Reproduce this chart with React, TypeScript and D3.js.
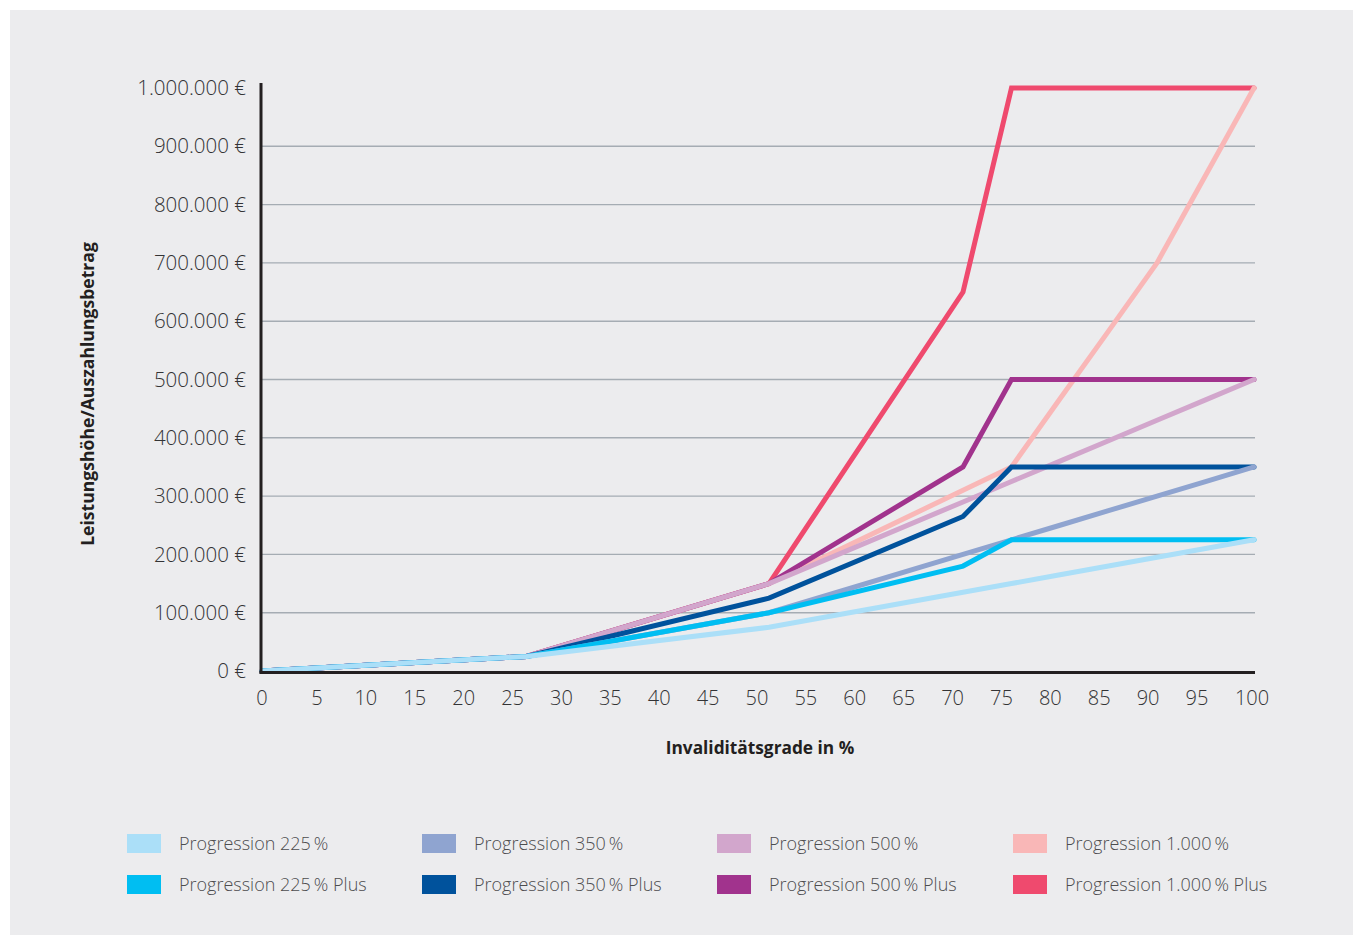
import React from "react";
import * as d3 from "d3";

// Invaliditätsgrade (x) at the break points of the curves
const grades = [0, 25, 50, 70, 75, 80, 85, 90, 95, 100];

const seriesNames = [
  "Progression 225\u2009%",
  "Progression 225\u2009% Plus",
  "Progression 350\u2009%",
  "Progression 350\u2009% Plus",
  "Progression 500\u2009%",
  "Progression 500\u2009% Plus",
  "Progression 1.000\u2009%",
  "Progression 1.000\u2009% Plus",
];

const seriesColors = [
  "#abdff8",
  "#00bef2",
  "#8fa4d0",
  "#00529c",
  "#d2a6cc",
  "#a1338d",
  "#f9b7b7",
  "#ef4a6e",
];

const p225 = [0, 25000, 75000, 135000, 150000, 165000, 180000, 195000, 210000, 225000];
const p225Plus = [0, 25000, 100000, 180000, 225000, 225000, 225000, 225000, 225000, 225000];
const p350 = [0, 25000, 100000, 200000, 225000, 250000, 275000, 300000, 325000, 350000];
const p350Plus = [0, 25000, 125000, 265000, 350000, 350000, 350000, 350000, 350000, 350000];
const p500 = [0, 25000, 150000, 290000, 325000, 360000, 395000, 430000, 465000, 500000];
const p500Plus = [0, 25000, 150000, 350000, 500000, 500000, 500000, 500000, 500000, 500000];
const p1000 = [0, 25000, 150000, 310000, 350000, 467000, 583000, 700000, 850000, 1000000];
const p1000Plus = [0, 25000, 150000, 650000, 1000000, 1000000, 1000000, 1000000, 1000000, 1000000];

const seriesValues = [p225, p225Plus, p350, p350Plus, p500, p500Plus, p1000, p1000Plus];

const xTicks = d3.range(0, 101, 5);
const yTicks = d3.range(0, 1000001, 100000);

const xTitle = "Invaliditätsgrade in %";
const yTitle = "Leistungshöhe/Auszahlungsbetrag";

const de = d3.formatLocale({
  decimal: ",",
  thousands: ".",
  grouping: [3],
  currency: ["", "\u00a0€"],
});
const fmt = de.format(",.0f");

export default function App() {
  const W = 1353;
  const H = 935;
  const left = 262;
  const right = 1254;
  const top = 88;
  const bottom = 671;

  // data position scale (piecewise, as in the original drawing)
  const x = d3.scaleLinear().domain([0, 25, 100]).range([left, 526.5, right]);
  // tick label positions
  const xl = d3.scaleLinear().domain([0, 5, 95, 100]).range([262, 317, 1197, 1252]);
  const y = d3.scaleLinear().domain([0, 1000000]).range([bottom, top]);

  const line = d3
    .line<number>()
    .x((_, i) => x(grades[i]))
    .y((d) => y(d));

  const font = "'Open Sans', 'Noto Sans', sans-serif";
  const drawOrder = d3.range(seriesValues.length).reverse();

  const legendCols = [127, 422, 717, 1013];
  const legendRows = [834, 875];

  return (
    <div style={{ position: "absolute", left: 0, top: 0 }}>
      <svg width={W} height={H} style={{ display: "block", fontFamily: font }}>
        <rect x={0} y={0} width={W} height={H} fill="#ffffff" />
        <rect x={10} y={10} width={W - 10} height={H - 10} fill="#ececee" />

        {/* grid */}
        {yTicks
          .filter((t) => t > 0 && t < 1000000)
          .map((t) => (
            <line
              key={"g" + t}
              x1={left}
              x2={right + 1}
              y1={y(t)}
              y2={y(t)}
              stroke="#a5acb3"
              strokeWidth={1.4}
            />
          ))}

        {/* y tick labels */}
        {yTicks.map((t) => (
          <text
            key={"yl" + t}
            x={246}
            y={y(t)}
            dy="0.35em"
            textAnchor="end"
            fontSize={20.5}
            fontWeight={300}
            fill="#333335"
          >
            {fmt(t) + "\u00a0€"}
          </text>
        ))}

        {/* x tick labels */}
        {xTicks.map((t) => (
          <text
            key={"xl" + t}
            x={xl(t)}
            y={698}
            dy="0.35em"
            textAnchor="middle"
            fontSize={20}
            fontWeight={300}
            fill="#333335"
          >
            {t}
          </text>
        ))}

        {/* series */}
        {drawOrder.map((i) => (
          <path
            key={"s" + i}
            d={line(seriesValues[i]) || ""}
            fill="none"
            stroke={seriesColors[i]}
            strokeWidth={5}
            strokeLinecap="round"
            strokeLinejoin="miter"
          />
        ))}

        {/* axes */}
        <line x1={261} x2={261} y1={83} y2={673.5} stroke="#231f20" strokeWidth={3} />
        <line x1={259.5} x2={right + 1} y1={672.5} y2={672.5} stroke="#231f20" strokeWidth={3} />

        {/* axis titles */}
        <text
          x={760}
          y={748}
          dy="0.35em"
          textAnchor="middle"
          fontSize={17.3}
          fontWeight={700}
          fill="#231f20"
        >
          {xTitle}
        </text>
        <text
          transform={`translate(88,394) rotate(-90)`}
          dy="0.35em"
          textAnchor="middle"
          fontSize={17.6}
          fontWeight={700}
          fill="#231f20"
        >
          {yTitle}
        </text>

        {/* legend */}
        {seriesNames.map((name, i) => {
          const col = Math.floor(i / 2);
          const row = i % 2;
          const lx = legendCols[col];
          const ly = legendRows[row];
          return (
            <g key={"lg" + i}>
              <rect x={lx} y={ly} width={34} height={19} fill={seriesColors[i]} />
              <text
                x={lx + 52}
                y={ly + 9.5}
                dy="0.35em"
                fontSize={18}
                fontWeight={300}
                fill="#4d4d4f"
              >
                {name}
              </text>
            </g>
          );
        })}
      </svg>
    </div>
  );
}
